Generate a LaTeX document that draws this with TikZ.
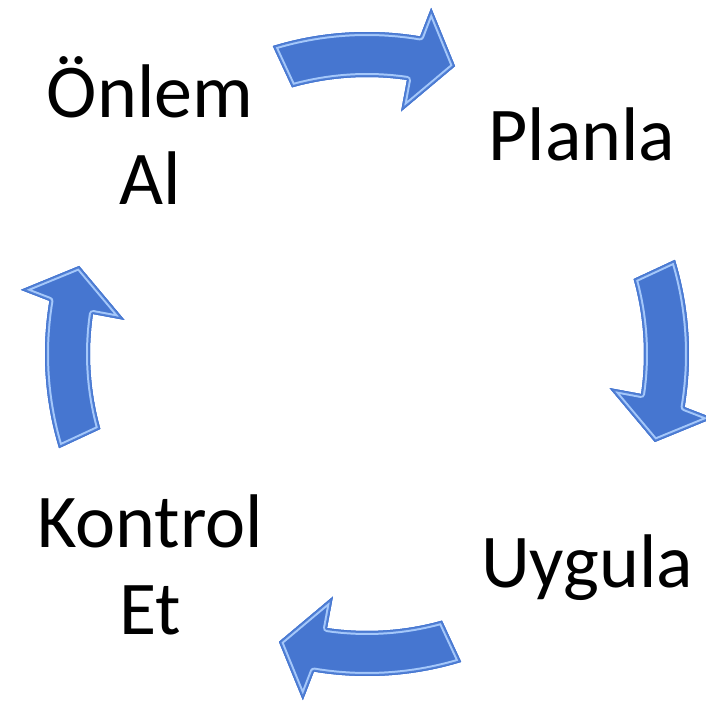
\documentclass[tikz,border=0pt]{standalone}
\usepackage{fontspec}
\setmainfont{Carlito}
\definecolor{arrowblue}{RGB}{70,118,208}
\definecolor{arrowlight}{RGB}{165,200,250}
\definecolor{arrowdark}{RGB}{50,92,176}
\newcommand\arrowshape[1]{%
 (#1+17:322pt) arc[start angle=#1+17, end angle=#1-9.5, radius=322pt]
 -- (#1-10.5:352pt) -- (#1-17:301pt) -- (#1-8:245pt) -- (#1-8.3:277pt)
 arc[start angle=#1-8.3, end angle=#1+15.7, radius=277pt] -- cycle}
\newcommand\drawcyclearrow[1]{%
 \fill[arrowblue] \arrowshape{#1};
 \begin{scope}
  \clip \arrowshape{#1};
  \draw[arrowlight, line width=8pt, line join=round] \arrowshape{#1};
  \draw[arrowblue!85!arrowlight, line width=4pt, line join=round] \arrowshape{#1};
  \draw[arrowblue, line width=1.5pt, line join=round] \arrowshape{#1};
 \end{scope}
}
\tikzset{lbl/.style={font=\fontsize{76}{87}\selectfont, inner sep=0pt, align=center, text=black}}
\begin{document}
\begin{tikzpicture}[x=1pt,y=1pt]
\useasboundingbox (0,0) rectangle (705,708);
\begin{scope}[shift={(367,354)}]
 \drawcyclearrow{90}
 \drawcyclearrow{0}
 \drawcyclearrow{-90}
 \drawcyclearrow{180}
\end{scope}
\node[lbl, anchor=base] (onlem) at (150,503) {Önlem\\Al};
\node[lbl, anchor=base] (planla) at (582,547) {Planla};
\node[lbl, anchor=base] (uygula) at (587,120) {Uygula};
\node[lbl, anchor=base] (kontrol) at (150,73) {Kontrol\\Et};
\end{tikzpicture}
\end{document}
